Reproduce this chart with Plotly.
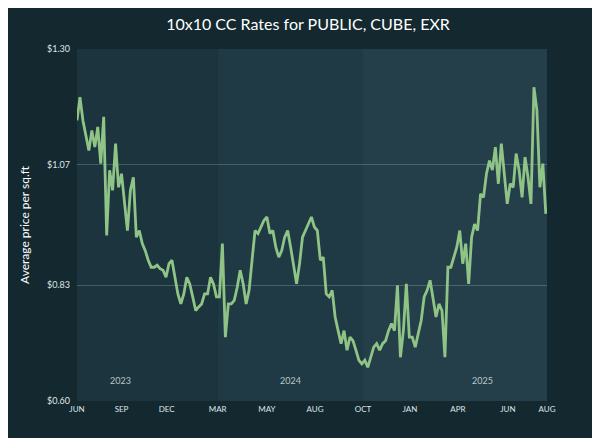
import pandas as pd
import plotly.graph_objects as go

# Average 10x10 CC price, one reading every 5 days from June 2023
start_date = '2023-06-01'
prices = [
    1.158, 1.204, 1.158, 1.131, 1.098, 1.138, 1.105, 1.145, 1.072, 1.165,
    0.929, 1.059, 1.019, 1.112, 1.025, 1.052, 0.992, 0.939, 1.019, 1.045,
    0.926, 0.939, 0.913, 0.899, 0.880, 0.866, 0.866, 0.870, 0.863, 0.860,
    0.846, 0.873, 0.880, 0.846, 0.813, 0.793, 0.813, 0.846, 0.833, 0.807,
    0.780, 0.787, 0.793, 0.813, 0.813, 0.846, 0.833, 0.807, 0.807, 0.913,
    0.727, 0.793, 0.793, 0.800, 0.826, 0.860, 0.833, 0.793, 0.820, 0.880,
    0.939, 0.933, 0.946, 0.959, 0.966, 0.933, 0.939, 0.906, 0.886, 0.899,
    0.926, 0.939, 0.906, 0.873, 0.833,
    0.873, 0.926, 0.939, 0.952, 0.966, 0.946, 0.939, 0.880, 0.886, 0.813,
    0.807, 0.820, 0.767, 0.740, 0.714, 0.740, 0.701, 0.727, 0.720, 0.701,
    0.681, 0.674, 0.681, 0.667, 0.687, 0.707, 0.714, 0.701, 0.714, 0.720,
    0.740, 0.754, 0.740, 0.830, 0.687, 0.740, 0.833, 0.727, 0.727, 0.707,
    0.734, 0.760, 0.807, 0.820, 0.840, 0.807, 0.767, 0.793, 0.780, 0.687,
    0.866, 0.866, 0.886, 0.906, 0.939, 0.873, 0.913, 0.833, 0.926, 0.952,
    0.939, 1.012, 1.005, 1.052, 1.078, 1.059, 1.105, 1.032, 1.112, 1.045,
    0.992, 1.032, 1.025, 1.092, 1.059, 1.005, 1.085, 1.045, 0.992, 1.224,
    1.178, 1.025, 1.072, 0.972,
]
dates = pd.date_range(start_date, periods=len(prices), freq='5D')

tick_dates = ['2023-06-01', '2023-08-15', '2023-10-30', '2024-01-24', '2024-04-16',
              '2024-07-06', '2024-09-25', '2024-12-13', '2025-03-04', '2025-05-27', '2025-08-01']
tick_labels = ['JUN', 'SEP', 'DEC', 'MAR', 'MAY', 'AUG', 'OCT', 'JAN', 'APR', 'JUN', 'AUG']

y_ticks = [0.60, 0.83, 1.07, 1.30]
y_labels = ['$0.60', '$0.83', '$1.07', '$1.30']

years = ['2023', '2024', '2025']
year_bounds = [('2023-06-01', '2024-01-24'), ('2024-01-24', '2024-09-25'), ('2024-09-25', '2025-08-01')]
year_label_dates = ['2023-08-14', '2024-05-25', '2025-04-15']
band_colors = ['#1b343e', '#1f3a44', '#253f4a']

fig = go.Figure()

for (x0, x1), color in zip(year_bounds, band_colors):
    fig.add_vrect(x0=x0, x1=x1, fillcolor=color, opacity=1, line_width=0, layer='below')

for yr, d in zip(years, year_label_dates):
    fig.add_annotation(x=d, y=0.037, yref='paper', text=yr, showarrow=False,
                       font=dict(size=9, color='#b8c6ca'))

fig.add_trace(go.Scatter(
    x=dates, y=prices, mode='lines',
    line=dict(color='#8fc486', width=2.8),
    hovertemplate='%{x}<br>$%{y:.2f}<extra></extra>'
))

fig.update_layout(
    width=600, height=438,
    paper_bgcolor='#13282f',
    plot_bgcolor='#13282f',
    margin=dict(l=69, r=61, t=41, b=45),
    title=dict(text='10x10 CC Rates for PUBLIC, CUBE, EXR', x=0.5, y=0.975, xanchor='center',
               font=dict(family='Lato', size=16, color='#ffffff')),
    font=dict(family='Lato', color='#dfe6e8'),
    showlegend=False,
)
fig.update_xaxes(
    range=['2023-06-01', '2025-08-01'],
    tickvals=tick_dates, ticktext=tick_labels,
    tickfont=dict(size=8, color='#dfe6e8'),
    ticklabelstandoff=2,
    showgrid=False, zeroline=False, showline=False,
)
fig.update_yaxes(
    range=[0.60, 1.30],
    tickvals=y_ticks, ticktext=y_labels,
    tickfont=dict(size=9, color='#dfe6e8'),
    ticklabelstandoff=6,
    title=dict(text='Average price per sq.ft', font=dict(size=12, color='#ffffff'), standoff=14),
    showgrid=True, gridcolor='rgba(160,190,195,0.3)', gridwidth=1,
    zeroline=False, showline=False,
)

fig.write_html('out.html')
